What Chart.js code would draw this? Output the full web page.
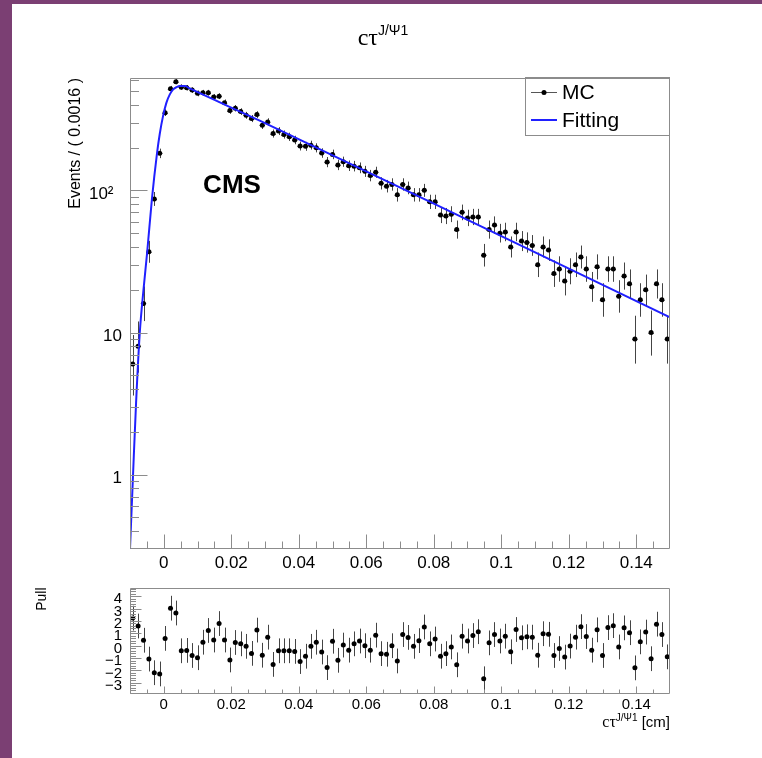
<!DOCTYPE html>
<html>
<head>
<meta charset="utf-8">
<script src="https://cdn.jsdelivr.net/npm/chart.js@4.4.1/dist/chart.umd.min.js"></script>
<style>
  html, body { margin: 0; padding: 0; background: #fff; }
  body { width: 762px; height: 758px; position: relative; overflow: hidden; }
  canvas { position: absolute; left: 0; }
  #main { top: 0; }
  #pull { top: 575px; }
  #edge-left { position: absolute; left: 0; top: 0; width: 12px; height: 758px; background: #7b3f73; }
  #edge-top { position: absolute; left: 0; top: 0; width: 762px; height: 4px; background: #7b3f73; }
</style>
</head>
<body>
<canvas id="main" width="762" height="585"></canvas>
<canvas id="pull" width="762" height="183"></canvas>
<div id="edge-left"></div>
<div id="edge-top"></div>
<script>
'use strict';

// Binning of the ctau histogram (100 bins of 0.0016 cm)
const binLow = -0.01;
const binWidth = 0.0016;

// MC events per bin
const mcCounts = [6, 8, 16, 37, 87, 182, 352, 519, 581, 532,
  527, 507, 481, 486, 486, 453, 460, 414, 364, 378,
  358, 337, 320, 341, 287, 303, 251, 261, 247, 238,
  226, 205, 204, 208, 199, 183, 158, 179, 151, 159,
  149, 148, 144, 136, 127, 134, 112, 107, 110, 93,
  110, 104, 93, 93, 100, 83, 83, 67, 66, 68,
  53, 70, 64, 65, 65, 35, 53, 57, 50, 51,
  40, 51, 44, 43, 41, 30, 40, 38, 26, 28,
  23, 27, 30, 34, 28, 21, 29, 17, 28, 28,
  18, 25, 22, 9, 17, 20, 10, 22, 17, 9];

// Pull per bin
const pullValues = [2.23, 1.59, 0.44, -1.08, -2.18, -2.28, 0.59, 3.03, 2.64, -0.41,
  -0.38, -0.79, -0.97, 0.28, 1.23, 0.46, 1.79, 0.46, -1.15, 0.26,
  0.15, -0.05, -0.62, 1.26, -0.77, 0.69, -1.51, -0.41, -0.41, -0.41,
  -0.46, -1.28, -0.85, -0.05, 0.28, -0.51, -1.77, 0.36, -1.18, 0.05,
  -0.36, 0.15, 0.38, 0.0, -0.36, 0.85, -0.64, -0.69, 0.0, -1.23,
  0.90, 0.67, -0.05, 0.41, 1.51, 0.15, 0.54, -0.85, -0.64, -0.10,
  -1.54, 0.77, 0.38, 0.82, 1.13, -2.67, 0.23, 0.90, 0.38, 0.77,
  -0.49, 1.31, 0.64, 0.72, 0.69, -0.77, 0.97, 0.92, -0.79, -0.23,
  -0.92, -0.03, 0.69, 1.54, 0.74, -0.36, 1.28, -0.79, 1.46, 1.62,
  -0.10, 1.44, 1.05, -1.79, 0.31, 1.10, -1.05, 1.74, 0.90, -0.90];

// Fit curve
const fitX = [-0.0100, -0.0091, -0.0082, -0.0071, -0.0060, -0.0049, -0.0035, -0.0020, -0.0012, -0.0002,
  0.0008, 0.0018, 0.0028, 0.0038, 0.0048, 0.0063, 0.0077, 0.0286, 0.0948, 0.1500];
const fitY = [0.30, 1.0, 3.2, 10, 20, 36.9, 87, 182, 248, 334,
  414, 473, 513, 532, 541, 541, 521, 308, 54.7, 12.8];

// Axis labels
const xLabelValues = [0, 0.02, 0.04, 0.06, 0.08, 0.1, 0.12, 0.14];
const mainYLabelValues = [1, 10, 100];
const mainYLabelText = ['1', '10', '10\u00b2\u2002'];
const pullYLabelValues = [-3, -2, -1, 0, 1, 2, 3, 4];

const SANS = '"Liberation Sans", Arial, sans-serif';
const SERIF = '"Liberation Serif", "Times New Roman", serif';
const FRAME = '#8c8c8c';

const binCenters = mcCounts.map((_, i) => binLow + binWidth * (i + 0.5));

// Approximate Poisson interval used for the data error bars
function poissonBand(n) {
  if (n <= 0) return [0, 1.84];
  return [n - Math.sqrt(n - 0.25), n + 1 + Math.sqrt(n + 0.75)];
}

function near(a, b) { return Math.abs(a - b) < 1e-7; }

// minor x tick positions every 0.005
const xTickPositions = [];
for (let k = -2; k <= 30; k++) xTickPositions.push(k * 0.005);

function xLabel(v) {
  const hit = xLabelValues.find(t => near(t, v));
  return hit === undefined ? '' : String(hit);
}

// keep the plot frame where we put it, whatever the label sizes are
function noScalePadding(s) {
  s.paddingTop = 0;
  s.paddingBottom = 0;
  s.paddingLeft = 0;
  s.paddingRight = 0;
}

// draw a string made of pieces (base text + superscripts)
function drawRich(ctx, parts, x, y, align) {
  let total = 0;
  parts.forEach(p => { ctx.font = p.font; p.w = ctx.measureText(p.text).width; total += p.w; });
  let cx = align === 'right' ? x - total : align === 'center' ? x - total / 2 : x;
  ctx.textAlign = 'left';
  ctx.textBaseline = 'alphabetic';
  parts.forEach(p => { ctx.font = p.font; ctx.fillText(p.text, cx, y + (p.dy || 0)); cx += p.w; });
}

// Frame and ROOT style ticks pointing into the plot area
function drawFrame(chart, xLen, yLen, yIsMajor) {
  const {ctx, chartArea: a, scales} = chart;
  ctx.save();
  ctx.strokeStyle = FRAME;
  ctx.lineWidth = 1;
  ctx.beginPath();
  const l = Math.round(a.left) + 0.5, r = Math.round(a.right) - 0.5;
  const t = Math.round(a.top) + 0.5, b = Math.round(a.bottom) - 0.5;
  ctx.rect(l, t, r - l, b - t);
  scales.x.ticks.forEach(tk => {
    const px = Math.round(scales.x.getPixelForValue(tk.value)) + 0.5;
    if (px < l || px > r) return;
    const len = xLabel(tk.value) !== '' ? xLen[0] : xLen[1];
    ctx.moveTo(px, b);
    ctx.lineTo(px, b - len);
  });
  scales.y.ticks.forEach(tk => {
    const py = Math.round(scales.y.getPixelForValue(tk.value)) + 0.5;
    if (py < t || py > b) return;
    const len = yIsMajor(tk.value) ? yLen[0] : yLen[1];
    ctx.moveTo(l, py);
    ctx.lineTo(l + len, py);
  });
  ctx.stroke();
  ctx.restore();
}

const mainPoints = binCenters.map((x, i) => ({x: x, y: mcCounts[i]}));
const fitPoints = fitX.map((x, i) => ({x: x, y: fitY[i]}));
const pullPoints = binCenters.map((x, i) => ({x: x, y: pullValues[i]}));

// error bars for the MC histogram
const mainBars = {
  id: 'mainBars',
  beforeDatasetsDraw(chart) {
    const {ctx, scales: {x, y}, chartArea: a} = chart;
    ctx.save();
    ctx.beginPath();
    ctx.rect(a.left, a.top, a.width, a.height);
    ctx.clip();
    ctx.strokeStyle = '#444';
    ctx.lineWidth = 1;
    ctx.beginPath();
    mainPoints.forEach(p => {
      const [lo, hi] = poissonBand(p.y);
      const px = Math.round(x.getPixelForValue(p.x)) + 0.5;
      const py = Math.round(y.getPixelForValue(p.y)) + 0.5;
      ctx.moveTo(px, y.getPixelForValue(Math.max(lo, 0.01)));
      ctx.lineTo(px, y.getPixelForValue(hi));
      ctx.moveTo(x.getPixelForValue(p.x - binWidth / 2), py);
      ctx.lineTo(x.getPixelForValue(p.x + binWidth / 2), py);
    });
    ctx.stroke();
    ctx.restore();
  },
  afterDraw(chart) {
    drawFrame(chart, [14, 7], [17, 8.5], v => mainYLabelValues.some(t => near(t, v)));
    const ctx = chart.ctx;
    ctx.save();
    ctx.fillStyle = '#000';
    // title
    drawRich(ctx, [
      {text: 'c\u03c4', font: '24px ' + SERIF},
      {text: 'J/\u03a81', font: '14px ' + SANS, dy: -10}
    ], 383, 45, 'center');
    // y title
    ctx.save();
    ctx.translate(76, 78);
    ctx.rotate(-Math.PI / 2);
    ctx.font = '16px ' + SANS;
    ctx.textAlign = 'right';
    ctx.textBaseline = 'middle';
    ctx.fillText('Events / ( 0.0016 )', 0, 0);
    ctx.restore();
    // CMS label
    ctx.font = 'bold 26px ' + SANS;
    ctx.textAlign = 'center';
    ctx.textBaseline = 'middle';
    ctx.fillText('CMS', 232, 186);
    // legend
    ctx.strokeStyle = FRAME;
    ctx.lineWidth = 1;
    ctx.strokeRect(525.5, 77.5, 144, 58);
    ctx.strokeStyle = '#555';
    ctx.beginPath();
    ctx.moveTo(531, 92.5);
    ctx.lineTo(557, 92.5);
    ctx.stroke();
    ctx.beginPath();
    ctx.arc(544, 92.5, 2.5, 0, Math.PI * 2);
    ctx.fill();
    ctx.strokeStyle = '#2020ff';
    ctx.lineWidth = 2;
    ctx.beginPath();
    ctx.moveTo(531, 120);
    ctx.lineTo(557, 120);
    ctx.stroke();
    ctx.font = '21px ' + SANS;
    ctx.textAlign = 'left';
    ctx.fillText('MC', 562, 93);
    ctx.fillText('Fitting', 562, 121);
    ctx.restore();
  }
};

const pullBars = {
  id: 'pullBars',
  beforeDatasetsDraw(chart) {
    const {ctx, scales: {x, y}} = chart;
    ctx.save();
    ctx.strokeStyle = '#444';
    ctx.lineWidth = 1;
    ctx.beginPath();
    pullPoints.forEach(p => {
      const px = Math.round(x.getPixelForValue(p.x)) + 0.5;
      ctx.moveTo(px, y.getPixelForValue(p.y - 1));
      ctx.lineTo(px, y.getPixelForValue(p.y + 1));
    });
    ctx.stroke();
    ctx.restore();
  },
  afterDraw(chart) {
    drawFrame(chart, [7, 4], [11, 5.5], v => pullYLabelValues.some(t => near(t, v)));
    const ctx = chart.ctx;
    ctx.save();
    ctx.fillStyle = '#000';
    ctx.save();
    ctx.translate(42, 12.5);
    ctx.rotate(-Math.PI / 2);
    ctx.font = '14px ' + SANS;
    ctx.textAlign = 'right';
    ctx.textBaseline = 'middle';
    ctx.fillText('Pull', 0, 0);
    ctx.restore();
    drawRich(ctx, [
      {text: 'c\u03c4', font: '16px ' + SERIF},
      {text: 'J/\u03a81', font: '10px ' + SANS, dy: -6},
      {text: ' [cm]', font: '15px ' + SANS}
    ], 670, 152, 'right');
    ctx.restore();
  }
};

Chart.defaults.font.family = SANS;
Chart.defaults.color = '#000';

new Chart(document.getElementById('main'), {
  type: 'scatter',
  data: {
    datasets: [{
      label: 'Fitting',
      data: fitPoints,
      showLine: true,
      borderColor: '#2020ff',
      borderWidth: 2,
      pointRadius: 0,
      cubicInterpolationMode: 'monotone',
      order: 0
    }, {
      label: 'MC',
      data: mainPoints,
      backgroundColor: '#000',
      borderWidth: 0,
      pointRadius: 2.5,
      order: 1
    }]
  },
  options: {
    responsive: false,
    devicePixelRatio: 1,
    animation: false,
    events: [],
    layout: {padding: {left: 0, right: 92, top: 77.5, bottom: 16}},
    plugins: {legend: {display: false}, tooltip: {enabled: false}},
    scales: {
      x: {
        type: 'linear', min: -0.01, max: 0.15,
        grid: {display: false, drawTicks: false}, border: {display: false},
        afterBuildTicks: s => { s.ticks = xTickPositions.map(v => ({value: v})); },
        afterFit: s => { s.height = 20; noScalePadding(s); },
        ticks: {autoSkip: false, maxRotation: 0, minRotation: 0, padding: 4,
          font: {size: 17}, callback: v => xLabel(v)}
      },
      y: {
        type: 'logarithmic', min: 0.314, max: 622,
        grid: {display: false, drawTicks: false}, border: {display: false},
        afterBuildTicks: s => {
          const list = [];
          [0.1, 1, 10, 100].forEach(d => { for (let m = 1; m <= 9; m++) list.push({value: m * d}); });
          s.ticks = list.filter(t => t.value >= 0.314 && t.value <= 622);
        },
        afterFit: s => { s.width = 130; noScalePadding(s); },
        ticks: {autoSkip: false, padding: 8, labelOffset: 4, font: {size: 17},
          callback: v => {
            const i = mainYLabelValues.findIndex(t => near(t, v));
            return i < 0 ? '' : mainYLabelText[i];
          }}
      }
    }
  },
  plugins: [mainBars]
});

new Chart(document.getElementById('pull'), {
  type: 'scatter',
  data: {
    datasets: [{
      label: 'Pull',
      data: pullPoints,
      backgroundColor: '#000',
      borderWidth: 0,
      pointRadius: 2.5
    }]
  },
  options: {
    responsive: false,
    devicePixelRatio: 1,
    animation: false,
    events: [],
    layout: {padding: {left: 0, right: 92, top: 12.5, bottom: 34}},
    plugins: {legend: {display: false}, tooltip: {enabled: false}},
    scales: {
      x: {
        type: 'linear', min: -0.01, max: 0.15,
        grid: {display: false, drawTicks: false}, border: {display: false},
        afterBuildTicks: s => { s.ticks = xTickPositions.map(v => ({value: v})); },
        afterFit: s => { s.height = 30; noScalePadding(s); },
        ticks: {autoSkip: false, maxRotation: 0, minRotation: 0, padding: 2,
          font: {size: 15}, callback: v => xLabel(v)}
      },
      y: {
        type: 'linear', min: -3.9, max: 4.7,
        grid: {display: false, drawTicks: false}, border: {display: false},
        afterBuildTicks: s => {
          const list = [];
          for (let k = -19; k <= 23; k++) list.push({value: k * 0.2});
          s.ticks = list;
        },
        afterFit: s => { s.width = 130; noScalePadding(s); },
        ticks: {autoSkip: false, padding: 8, labelOffset: 3, font: {size: 15},
          callback: v => {
            const hit = pullYLabelValues.find(t => near(t, v));
            return hit === undefined ? '' : String(hit).replace('-', '\u2212');
          }}
      }
    }
  },
  plugins: [pullBars]
});
</script>
</body>
</html>
